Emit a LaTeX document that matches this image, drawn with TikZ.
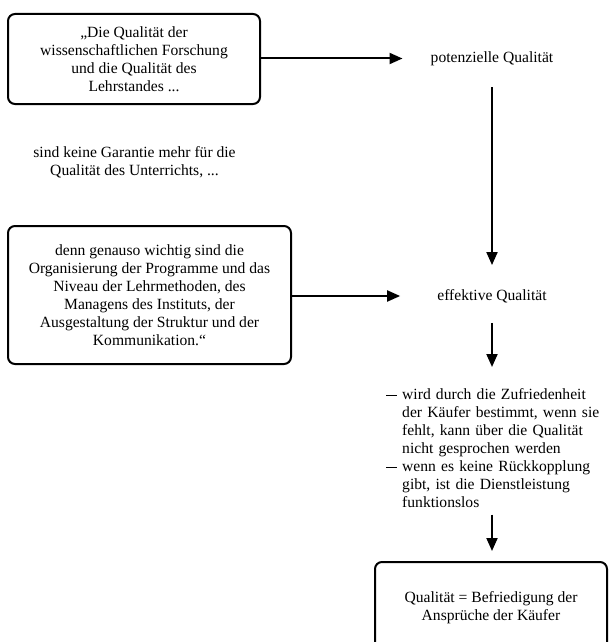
\documentclass[tikz,border=0pt]{standalone}
\usepackage{fontspec}
\setmainfont{Liberation Serif}
\usetikzlibrary{arrows.meta}
\begin{document}
\begin{tikzpicture}[x=1pt,y=-1pt,
  txt/.style={font=\fontsize{15.6}{18}\selectfont, align=center, inner sep=0pt},
  roundbox/.style={txt, draw, line width=2pt, rounded corners=7pt},
  arr/.style={line width=2pt, -{Triangle[length=13pt,width=11pt]}}]
\useasboundingbox (0,0) rectangle (608,642);
\clip (0,0) rectangle (608,642);

\node[roundbox, minimum width=252pt, minimum height=90pt] (b1) at (134,59)
  {„Die Qualität der\\wissenschaftlichen Forschung\\und die Qualität des\\Lehrstandes ...};
\node[txt] (pot) at (492,58.5) {potenzielle Qualität};
\node[txt] (mid) at (134.5,162.5) {sind keine Garantie mehr für die\\Qualität des Unterrichts, ...};
\node[roundbox, minimum width=283pt, minimum height=138pt] (b2) at (149.5,295)
  {denn genauso wichtig sind die\\Organisierung der Programme und das\\Niveau der Lehrmethoden, des\\Managens des Instituts, der\\Ausgestaltung der Struktur und der\\Kommunikation.“};
\node[txt] (eff) at (492,296) {effektive Qualität};
\node[txt, anchor=north west, text width=215pt, align=left] (lst) at (386,388)
  {\makebox[16pt][l]{\rule[3.2pt]{11pt}{1.1pt}}wird durch die Zufriedenheit\\
   \hspace*{16pt}der Käufer bestimmt, wenn sie\\
   \hspace*{16pt}fehlt, kann über die Qualität\\
   \hspace*{16pt}nicht gesprochen werden\\
   \makebox[16pt][l]{\rule[3.2pt]{11pt}{1.1pt}}wenn es keine Rückkopplung\\
   \hspace*{16pt}gibt, ist die Dienstleistung\\
   \hspace*{16pt}funktionslos};
\node[roundbox, minimum width=232pt, minimum height=92pt] (b3) at (491,608)
  {Qualität = Befriedigung der\\Ansprüche der Käufer};

\draw[arr, shorten >=28pt] (b1.east |- pot.west) -- (pot.west);
\draw[arr, shorten <=21.5pt, shorten >=24pt] (pot.south) -- (eff.north);
\draw[arr, shorten >=37pt] (b2.east |- eff.west) -- (eff.west);
\draw[arr, shorten <=20pt, shorten >=21pt] (eff.south) -- (eff.south |- lst.north);
\draw[arr, shorten <=7pt, shorten >=10pt] (eff.south |- lst.south) -- (eff.south |- b3.north);
\end{tikzpicture}
\end{document}
